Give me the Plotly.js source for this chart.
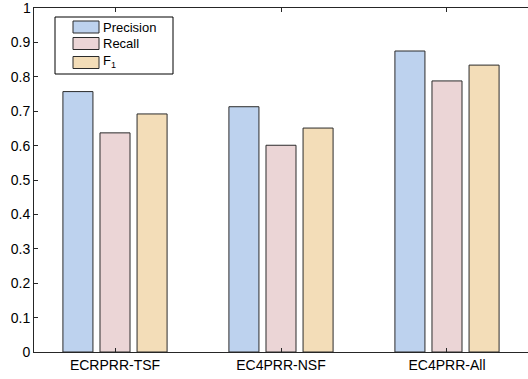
<!DOCTYPE html>
<html>
<head>
<meta charset="utf-8">
<script src="https://cdn.plot.ly/plotly-3.0.1.min.js"></script>
<style>html,body{margin:0;padding:0;background:#fff;}#chart{width:528px;height:379px;}</style>
</head>
<body>
<div id="chart"></div>
<script>
var categories = ["ECRPRR-TSF", "EC4PRR-NSF", "EC4PRR-All"];
var precision = [0.757, 0.713, 0.875];
var recall = [0.637, 0.601, 0.788];
var f1 = [0.692, 0.651, 0.834];
var seriesNames = ["Precision", "Recall", "F<sub>1</sub>"];
var yTicks = [0, 0.1, 0.2, 0.3, 0.4, 0.5, 0.6, 0.7, 0.8, 0.9, 1];
var yTickText = ["0", "0.1", "0.2", "0.3", "0.4", "0.5", "0.6", "0.7", "0.8", "0.9", "1"];

var colors = ["#bdd2ee", "#ebd5d6", "#f3ddb8"];
var series = [precision, recall, f1];
var traces = series.map(function(vals, i) {
  return {
    type: "bar",
    x: categories,
    y: vals,
    name: seriesNames[i],
    showlegend: false,
    marker: {color: colors[i], line: {color: "#2b2b2b", width: 1}}
  };
});

// plot area in pixels
var L = 34, R = 528, T = 8, B = 352;
function px(x) { return (x - L) / (R - L); }
function py(y) { return (B - y) / (B - T); }

var shapes = [{
  type: "rect", xref: "paper", yref: "paper",
  x0: px(55), x1: px(173), y0: py(74), y1: py(17),
  line: {color: "#000", width: 1}, fillcolor: "#fff", layer: "above"
}];
var annotations = [];
var swTop = [21, 37.5, 56.5];
var txtY = [27.3, 43.3, 61];
for (var i = 0; i < 3; i++) {
  shapes.push({
    type: "rect", xref: "paper", yref: "paper",
    x0: px(73), x1: px(99), y0: py(swTop[i] + 12), y1: py(swTop[i]),
    line: {color: "#2b2b2b", width: 1}, fillcolor: colors[i], layer: "above"
  });
  annotations.push({
    xref: "paper", yref: "paper", x: px(101), y: py(txtY[i]),
    xanchor: "left", yanchor: "middle", showarrow: false,
    text: seriesNames[i], font: {size: 13, color: "#000"}
  });
}
// top y tick label, which Plotly auto-hides at the range end
annotations.push({
  xref: "paper", yref: "y", x: 0, y: yTicks[yTicks.length - 1],
  xanchor: "right", yanchor: "middle", xshift: -2, borderpad: 0,
  showarrow: false, text: yTickText[yTickText.length - 1],
  font: {size: 14, color: "#000"}
});

var layout = {
  width: 528, height: 379,
  margin: {l: L, r: 528 - R, t: T, b: 379 - B},
  paper_bgcolor: "#fff", plot_bgcolor: "#fff",
  font: {family: "Liberation Sans, Arial, sans-serif", size: 14, color: "#000"},
  barmode: "group",
  bargap: 0.33,
  bargroupgap: 0.19,
  showlegend: false,
  shapes: shapes,
  annotations: annotations,
  xaxis: {
    range: [-0.488, 2.488],
    showline: true, linecolor: "#262626", linewidth: 1, mirror: "allticks",
    ticks: "inside", ticklen: 4, tickcolor: "#262626",
    showgrid: false, zeroline: false, fixedrange: true,
    tickfont: {size: 14}
  },
  yaxis: {
    range: [0, 1],
    tickvals: yTicks, ticktext: yTickText,
    showline: true, linecolor: "#262626", linewidth: 1,
    ticks: "inside", ticklen: 4, tickcolor: "#262626",
    showgrid: false, zeroline: false, fixedrange: true,
    tickfont: {size: 14}
  }
};

Plotly.newPlot("chart", traces, layout, {displayModeBar: false, staticPlot: true});
</script>
</body>
</html>
